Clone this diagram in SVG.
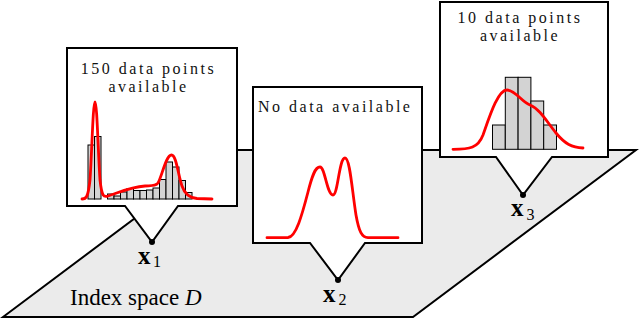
<svg xmlns="http://www.w3.org/2000/svg" width="640" height="319" viewBox="0 0 640 319">
<style>
.plane{fill:#ebebeb;stroke:#000;stroke-width:2;stroke-linejoin:miter}
.callout{fill:#fff;stroke:#000;stroke-width:2;stroke-linejoin:miter}
.bar{fill:#d3d3d3;stroke:#000;stroke-width:1}
.pdf{fill:none;stroke:#ff0000;stroke-width:2.8;stroke-linecap:round;stroke-linejoin:round}
.txt{font-family:"Liberation Serif","DejaVu Serif",serif;font-size:16px;letter-spacing:2.5px;fill:#111}
.lbl{font-family:"Liberation Serif","DejaVu Serif",serif;fill:#000}
.dot{fill:#000}
</style>
<g id="plane">
<polygon class="plane" points="3,317 226,150 636,150 413,317"/>
<text class="lbl" x="70" y="305" font-size="23">Index space <tspan font-style="italic">D</tspan></text>
</g>
<g id="connectors"></g>
<g id="node1">
<path class="callout" d="M67,48 H237 V206 H178 L152,242 L125,206 H67 Z"/>
<text class="txt" x="148.5" y="74" text-anchor="middle">150 data points</text>
<text class="txt" x="148.5" y="92" text-anchor="middle">available</text>
<g>
<rect class="bar" x="88" y="145" width="6.5" height="54"/>
<rect class="bar" x="94.5" y="136.5" width="6.5" height="62.5"/>
<rect class="bar" x="107.5" y="194" width="6.5" height="5"/>
<rect class="bar" x="114" y="196" width="6.5" height="3"/>
<rect class="bar" x="120.5" y="192" width="6.5" height="7"/>
<rect class="bar" x="127" y="188.5" width="6.5" height="10.5"/>
<rect class="bar" x="133.5" y="190.5" width="6.5" height="8.5"/>
<rect class="bar" x="140" y="190.5" width="6.5" height="8.5"/>
<rect class="bar" x="146.5" y="190" width="6.5" height="9"/>
<rect class="bar" x="153" y="188" width="6.5" height="11"/>
<rect class="bar" x="159.5" y="179.5" width="6.5" height="19.5"/>
<rect class="bar" x="166" y="162" width="6.5" height="37"/>
<rect class="bar" x="172.5" y="167" width="6.5" height="32"/>
<rect class="bar" x="179" y="180.5" width="6.5" height="18.5"/>
<rect class="bar" x="185.5" y="192.5" width="6.5" height="6.5"/>
</g>
<path class="pdf" d="M82,199 C86,199 88,198 90,180 C92,150 93,102 95,102 C97,102 98,150 100,180 C102,198 104,197 108,196 C118,193 130,187 145,186 C152,185.5 156,186 158,183 C162,176 166,155 171.5,155 C176.5,155 178,175 182,186 C185,195 190,198 197,198.5 L212,199"/>
<circle class="dot" cx="152" cy="242" r="3"/>
<text class="lbl" x="138" y="264" font-size="25" font-weight="bold">x</text>
<text class="lbl" x="153" y="267" font-size="16">1</text>
</g>
<g id="node2">
<path class="callout" d="M253,87 H422 V243 H365 L338,280 L310,243 H253 Z"/>
<text class="txt" x="258" y="111.5">No data available</text>
<path class="pdf" d="M267,237.7 L288,237.5 C296,237 302,215 308,192 C312,176 315,167 320,167 C325,167 327,195 333,195 C338,195 339,158 345,158 C350,158 352,190 356,215 C359,232 362,237.5 368,237.7 L398,237.7"/>
<circle class="dot" cx="338" cy="280" r="3"/>
<text class="lbl" x="323" y="301.5" font-size="25" font-weight="bold">x</text>
<text class="lbl" x="338.5" y="304.5" font-size="16">2</text>
</g>
<g id="node3">
<path class="callout" d="M440,2 H608 V157 H552 L523,195 L496,157 H440 Z"/>
<text class="txt" x="520" y="22.5" text-anchor="middle">10 data points</text>
<text class="txt" x="520" y="41" text-anchor="middle">available</text>
<g>
<rect class="bar" x="492.5" y="125" width="12.8" height="24.3"/>
<rect class="bar" x="505.3" y="77.3" width="12.8" height="72"/>
<rect class="bar" x="518.1" y="77.3" width="12.8" height="72"/>
<rect class="bar" x="530.9" y="101" width="12.8" height="48.3"/>
<rect class="bar" x="543.7" y="125" width="12.8" height="24.3"/>
</g>
<path class="pdf" d="M453,149.3 C470,149.3 478,148 483,135 C490,115 498,90 507,90 C515,90 522,102 530,105 C540,109 547,122 556,133 C565,144 572,147.5 583,148"/>
<circle class="dot" cx="523" cy="195" r="3"/>
<text class="lbl" x="511" y="216" font-size="25" font-weight="bold">x</text>
<text class="lbl" x="526.5" y="219.5" font-size="16">3</text>
</g>
</svg>
